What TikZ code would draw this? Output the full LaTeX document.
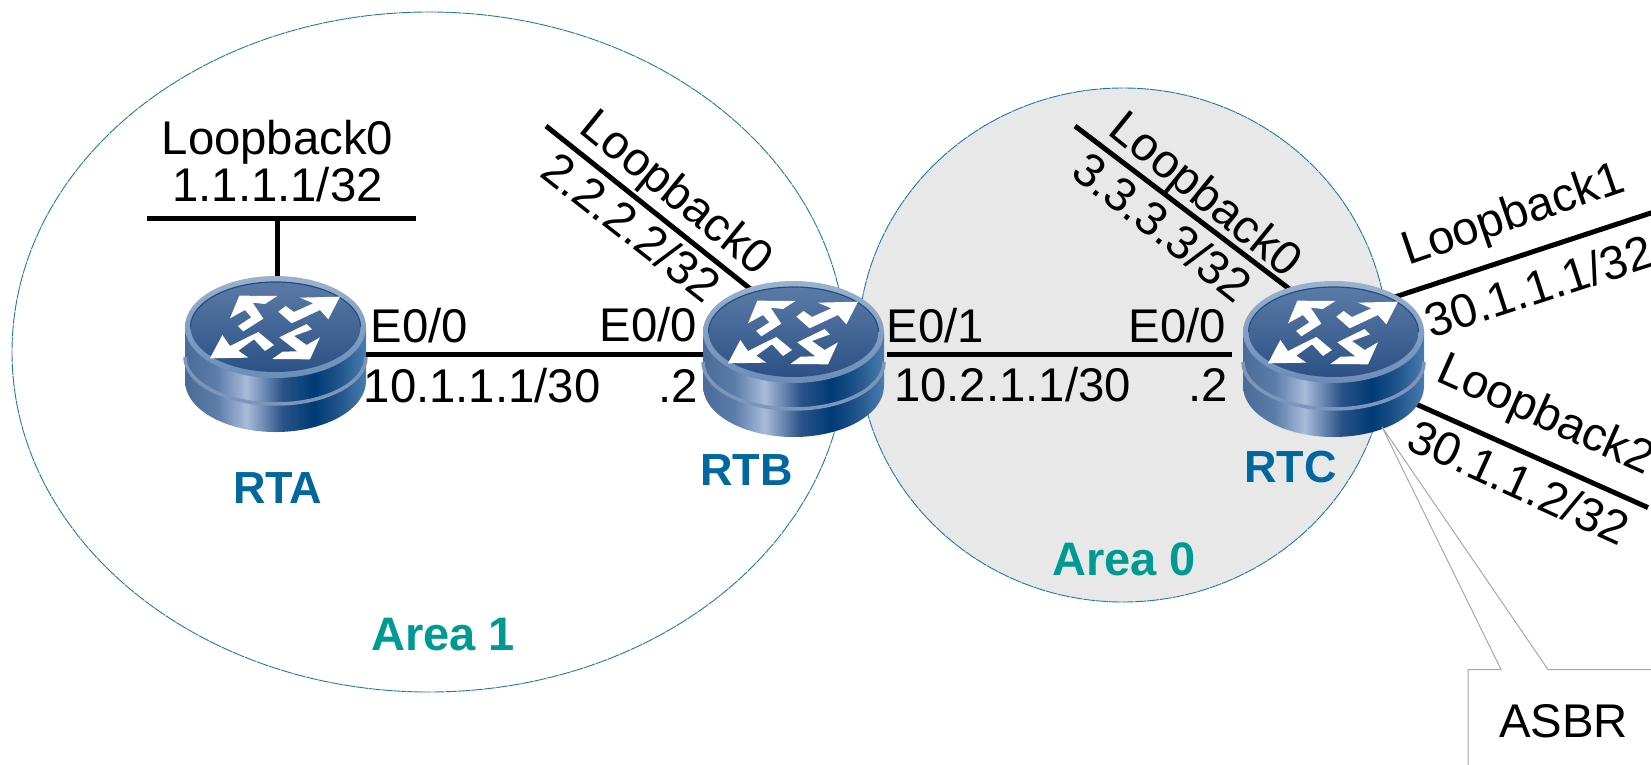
\documentclass[tikz,border=0pt]{standalone}
\usepackage{fontspec}
\setmainfont{Liberation Sans}
\usetikzlibrary{shapes.geometric}
\definecolor{arealine}{HTML}{1F78A8}
\definecolor{areagrey}{HTML}{E8E8E8}
\definecolor{routerblue}{HTML}{00689E}
\definecolor{areateal}{HTML}{009A93}
\definecolor{calloutgrey}{HTML}{A8A8A8}
\definecolor{bodya}{HTML}{4A6A98}
\definecolor{bodyb}{HTML}{5C7DAA}
\definecolor{bodyc}{HTML}{A8BBD9}
\definecolor{bodyd}{HTML}{6F8CB5}
\definecolor{bodye}{HTML}{2A5488}
\definecolor{bodyf}{HTML}{003A75}
\definecolor{bodyg}{HTML}{1E5288}
\definecolor{bodyh}{HTML}{4B7CAF}
\definecolor{grooveblue}{HTML}{7C95BA}
\definecolor{rimtop}{HTML}{9DB1CC}
\definecolor{rimbottom}{HTML}{6A8DB8}
\definecolor{facetop}{HTML}{5B7AA6}
\definecolor{facemid}{HTML}{42659A}
\definecolor{facebottom}{HTML}{2C5186}
\definecolor{faceedge}{HTML}{1F4E85}
\pgfdeclarehorizontalshading{routerbody}{100bp}{
  color(0bp)=(bodya);
  color(25bp)=(bodya);
  color(33.75bp)=(bodyb);
  color(42bp)=(bodyc);
  color(46.6bp)=(bodyd);
  color(52bp)=(bodye);
  color(60.5bp)=(bodyf);
  color(67bp)=(bodyg);
  color(75bp)=(bodyh);
  color(100bp)=(bodyh)}
\tikzset{
  area/.style={ellipse, draw=arealine, line width=0.9pt, dash pattern=on 12pt off 0.8pt, inner sep=0pt, outer sep=0pt},
  routerbox/.style={inner sep=0pt, outer sep=0pt, minimum width=181pt, minimum height=156pt},
  link/.style={line width=5pt},
  lbl/.style={inner sep=0pt, font=\fontsize{47.3}{48}\selectfont},
  rtname/.style={inner sep=0pt, anchor=base west, text=routerblue, font=\fontsize{45}{47}\selectfont\bfseries},
  areaname/.style={inner sep=0pt, anchor=base west, text=areateal, font=\fontsize{47}{49}\selectfont\bfseries},
  router/.pic={
    \path[shading=routerbody] (-90.5,-27) -- (-90.5,27) arc[start angle=180, end angle=360, x radius=90.5, y radius=-51] -- (90.5,-27) -- cycle;
    \draw[line width=3.5pt, draw=grooveblue] (-90.5,3) arc[start angle=180, end angle=360, x radius=90.5, y radius=-47];
    \path[top color=rimtop, bottom color=rimbottom] (0,-27) ellipse[x radius=90.5, y radius=51];
    \path[top color=facetop, middle color=facemid, bottom color=facebottom] (0,-27) ellipse[x radius=85, y radius=45];
    \draw[faceedge, line width=1.2pt] (-85,-27) arc[start angle=180, end angle=0, x radius=85, y radius=-45];
    \begin{scope}[shift={(-125.5,-94)}, x=.3333pt, y=-.3333pt]
      \fill[white] (268,107) -- (382,108) -- (345,132) -- (308,128) -- (340,176) -- (280,214) -- (264,198) -- (304,172) -- (285,150) -- (240,175) -- cycle;
      \fill[white] (570,110) -- (450,113) -- (490,130) -- (432,156) -- (407,138) -- (385,155) -- (425,190) -- (510,150) -- (535,178) -- cycle;
      \fill[white] (180,295) -- (295,293) -- (265,272) -- (312,238) -- (345,273) -- (372,255) -- (325,216) -- (240,258) -- (217,225) -- cycle;
      \fill[white] (480,298) -- (367,297) -- (398,275) -- (442,274) -- (388,232) -- (470,192) -- (486,208) -- (432,228) -- (470,255) -- (510,232) -- cycle;
    \end{scope}
  }
}
\begin{document}
\begin{tikzpicture}[x=1pt, y=-1pt]
  \clip (0,0) rectangle (1651,765);
  \node[area, minimum width=834pt, minimum height=680pt] (area1) at (429,352) {};
  \node[area, fill=areagrey, minimum width=530pt, minimum height=514pt] (area0) at (1123,345) {};

  \node[routerbox] (rta) at (275.5,354) {};
  \node[routerbox] (rtb) at (793.5,354) {};
  \node[routerbox] (rtc) at (1333.5,354) {};

  \coordinate (lo0a) at (277.5,218);
  \coordinate (lo0aleft) at (147,218);
  \coordinate (lo0aright) at (416,218);
  \coordinate (lo0b) at (546,126);
  \coordinate (lo0c) at (1075,126);
  \coordinate (lo1c) at (1660,210);
  \coordinate (lo2c) at (1648,507.6);

  \draw[link] (rta) -- (rtb);
  \draw[link, shorten <=3pt, shorten >=11pt] (rtb) -- (rtc);
  \draw[link] (lo0a) -- (lo0a |- rta.center);
  \draw[link] (lo0aleft) -- (lo0aright);
  \draw[link] (lo0b) -- ([xshift=-23pt,yshift=49pt]rtb.center);
  \draw[link] (lo0c) -- ([xshift=-23pt,yshift=49pt]rtc.center);
  \draw[link] (lo1c) -- ([xshift=40pt,yshift=50pt]rtc.center);
  \draw[link] (lo2c) -- ([xshift=60pt,yshift=-40pt]rtc.center);

  \pic at (rta) {router};
  \pic at ([yshift=-5pt]rtb.center) {router};
  \pic at ([yshift=-5pt]rtc.center) {router};

  \node[rtname] (rtaname) at (233,503) {RTA};
  \node[rtname] (rtbname) at (700,485) {RTB};
  \node[rtname] (rtcname) at (1244,482) {RTC};
  \node[areaname] (area1name) at (371,650) {Area 1};
  \node[areaname] (area0name) at (1052,575) {Area 0};

  \node[lbl, anchor=base] (lo0atext) at (277.5,154) {Loopback0};
  \node[lbl, anchor=base] (lo0aip) at (277.5,201) {1.1.1.1/32};
  \node[lbl, anchor=base west, rotate=-39] (lo0btext) at (577,131) {Loopback0};
  \node[lbl, anchor=base west, rotate=-38] (lo0bip) at (538,175) {2.2.2.2/32};
  \node[lbl, anchor=base west, rotate=-39] (lo0ctext) at (1106,133) {Loopback0};
  \node[lbl, anchor=base west, rotate=-38] (lo0cip) at (1069,175) {3.3.3.3/32};
  \node[lbl, anchor=base west, rotate=19] (lo1ctext) at (1408,266) {Loopback1};
  \node[lbl, anchor=base west, rotate=18] (lo1cip) at (1431,339) {30.1.1.1/32};
  \node[lbl, anchor=base west, rotate=-24] (lo2ctext) at (1434,380.5) {Loopback2};
  \node[lbl, anchor=base west, rotate=-24.5] (lo2cip) at (1404,448) {30.1.1.2/32};

  \node[lbl, anchor=base west] (e00a) at (370.5,342) {E0/0};
  \node[lbl, anchor=base west] (ipa) at (363.5,402) {10.1.1.1/30};
  \node[lbl, anchor=base east] (e00b) at (697,341) {E0/0};
  \node[lbl, anchor=base east] (dotb) at (698,402) {.2};
  \node[lbl, anchor=base west] (e01b) at (886.5,342) {E0/1};
  \node[lbl, anchor=base west] (ipb) at (894,401) {10.2.1.1/30};
  \node[lbl, anchor=base east] (e00c) at (1226,342) {E0/0};
  \node[lbl, anchor=base east] (dotc) at (1228,401) {.2};

  \coordinate (asbrtip) at (1382,427);
  \draw[calloutgrey, line width=1pt] (1468,790) -- (1468,669.5) -- (1501,669.5) -- (asbrtip) -- (1548,669.5) -- (1680,669.5);
  \node[lbl, anchor=base west] (asbr) at (1499,737) {ASBR};
\end{tikzpicture}
\end{document}
